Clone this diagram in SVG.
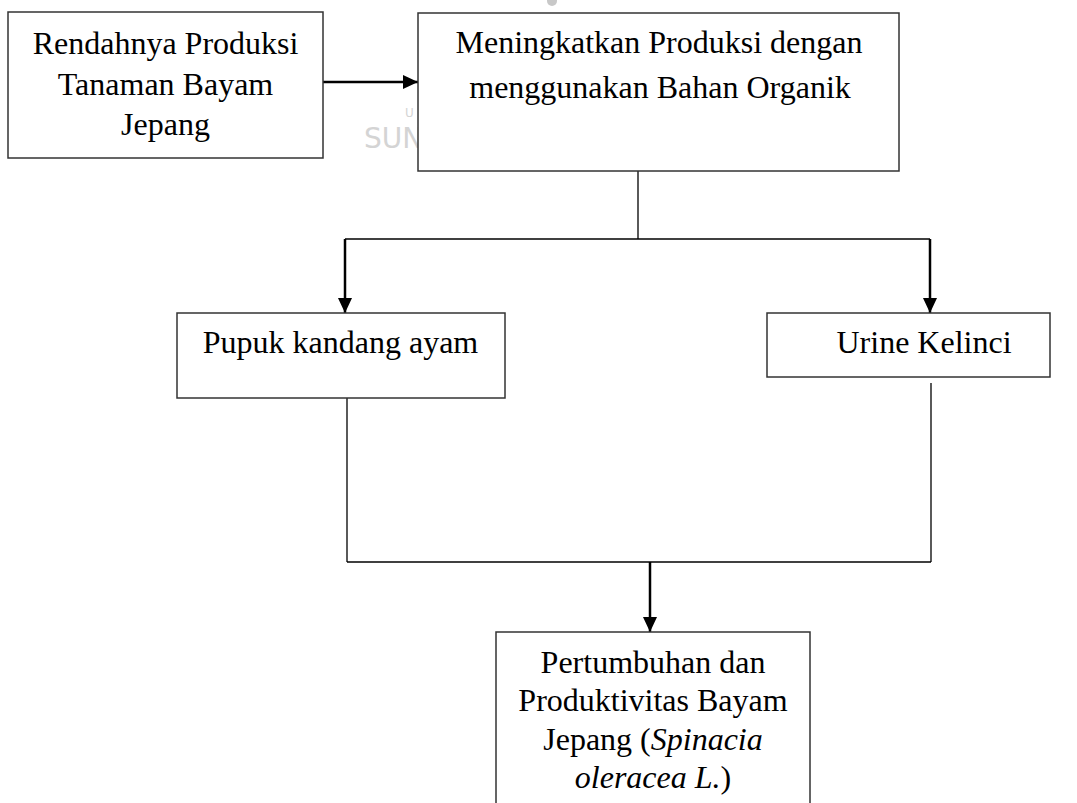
<svg xmlns="http://www.w3.org/2000/svg" width="1077" height="803" viewBox="0 0 1077 803">
<defs>
<marker id="ah" markerUnits="userSpaceOnUse" markerWidth="16" markerHeight="14" refX="15" refY="7" orient="auto">
<path d="M0,0 L15,7 L0,14 Z" fill="#000"/>
</marker>
<style>
.box{fill:#fff;stroke:#333;stroke-width:1.5}
.t{font-family:"Liberation Serif","Times New Roman",serif;font-size:32px;fill:#000;text-anchor:middle}
.i{font-style:italic}
.c{fill:none;stroke:#000}
.a{stroke-width:2.5}
.thin{stroke-width:1.3}
.wm{font-family:"DejaVu Sans","Liberation Sans",sans-serif;fill:#d4d4d4}
</style>
</defs>
<rect width="1077" height="803" fill="#fff"/>
<g id="watermark">
<circle cx="552" cy="1" r="5" fill="#c8c8c8"/>
<text class="wm" x="405" y="117" font-size="12">U</text>
<text class="wm" x="364" y="148" font-size="28">SUN</text>
</g>
<g id="connectors">
<line class="c a" x1="323" y1="82" x2="418" y2="82" marker-end="url(#ah)"/>
<line class="c thin" x1="638" y1="171" x2="638" y2="239"/>
<line class="c" x1="345" y1="239" x2="930" y2="239" stroke-width="1.5"/>
<line class="c a" x1="345" y1="239" x2="345" y2="313" marker-end="url(#ah)"/>
<line class="c a" x1="930" y1="239" x2="930" y2="313" marker-end="url(#ah)"/>
<line class="c thin" x1="347" y1="398" x2="347" y2="562"/>
<line class="c thin" x1="931" y1="383" x2="931" y2="562"/>
<line class="c" x1="347" y1="562" x2="931" y2="562" stroke-width="1.5"/>
<line class="c a" x1="650" y1="562" x2="650" y2="632" marker-end="url(#ah)"/>
</g>
<g id="n1">
<rect class="box" x="8" y="12" width="315" height="146"/>
<text class="t" x="165.5" y="54">Rendahnya Produksi</text>
<text class="t" x="165.5" y="95">Tanaman Bayam</text>
<text class="t" x="165.5" y="135">Jepang</text>
</g>
<g id="n2">
<rect class="box" x="418" y="13" width="481" height="158"/>
<text class="t" x="659" y="53">Meningkatkan Produksi dengan</text>
<text class="t" x="660" y="98">menggunakan Bahan Organik</text>
</g>
<g id="n3">
<rect class="box" x="177" y="313" width="328" height="85"/>
<text class="t" x="340.5" y="353">Pupuk kandang ayam</text>
</g>
<g id="n4">
<rect class="box" x="767" y="313" width="283" height="64"/>
<text class="t" x="924" y="353">Urine Kelinci</text>
</g>
<g id="n5">
<rect class="box" x="496" y="632" width="314" height="200"/>
<text class="t" x="653" y="673">Pertumbuhan dan</text>
<text class="t" x="653" y="711">Produktivitas Bayam</text>
<text class="t" x="653" y="750">Jepang (<tspan class="i">Spinacia</tspan></text>
<text class="t" x="653" y="788"><tspan class="i">oleracea L.</tspan>)</text>
</g>
</svg>
